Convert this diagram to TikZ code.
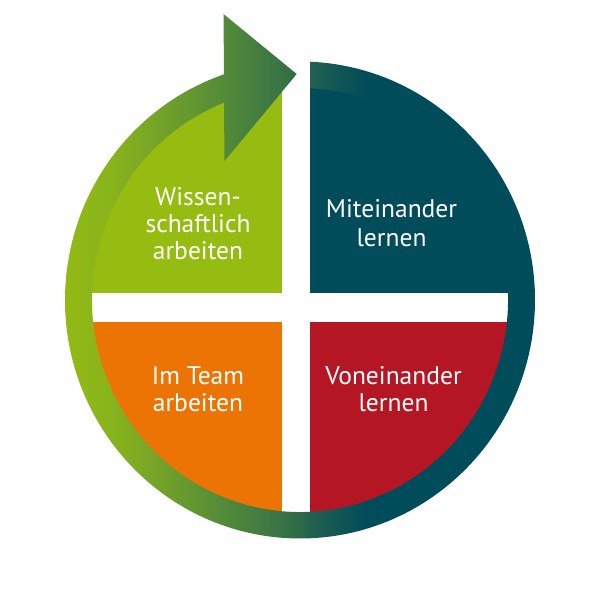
\documentclass[tikz,border=0pt]{standalone}
\usepackage{fontspec}
\setmainfont{PT Sans}
\definecolor{rg1}{RGB}{147,186,20}
\definecolor{rg2}{RGB}{136,180,28}
\definecolor{rg3}{RGB}{120,166,38}
\definecolor{rg4}{RGB}{90,144,53}
\definecolor{rg5}{RGB}{58,117,69}
\definecolor{rg6}{RGB}{47,108,70}
\definecolor{rg7}{RGB}{34,95,80}
\definecolor{rg8}{RGB}{0,76,90}
\definecolor{qgreen}{RGB}{150,188,17}
\definecolor{qteal}{RGB}{0,76,90}
\definecolor{qorange}{RGB}{236,116,4}
\definecolor{qred}{RGB}{181,22,35}
\pgfdeclarehorizontalshading{ringsh}{100bp}{color(0bp)=(rg1); color(30.4bp)=(rg1); color(34.2bp)=(rg2); color(37.5bp)=(rg3); color(42.5bp)=(rg4); color(48.1bp)=(rg5); color(49.75bp)=(rg6); color(51bp)=(rg7); color(55.5bp)=(rg8); color(100bp)=(rg8)}
\tikzset{
  ringfill/.style={path picture={\shade[shading=ringsh] (-300,-300) rectangle (300,300);}},
  lbl/.style={text=white, font=\fontsize{25.5}{28}\selectfont, anchor=base, inner sep=0pt}
}
\begin{document}
\begin{tikzpicture}[x=1pt,y=1pt]
\useasboundingbox (-300,-300) rectangle (300,300);
% quadrants
\begin{scope}
  \clip (0,0) ellipse [x radius=209pt, y radius=213pt];
  \fill[qgreen] (-300,7) rectangle (-18,300);
  \fill[qteal] (10,7) rectangle (300,300);
  \fill[qorange] (-300,-22) rectangle (-18,-300);
  \fill[qred] (10,-22) rectangle (300,-300);
\end{scope}
% ring with arrow head
\path[ringfill] (87.56:235pt and 238.5pt)
  arc[start angle=87.56, end angle=-251.13, x radius=235pt, y radius=238.5pt]
  -- (-76.5,286) -- (-3.3,226) -- (-75.5,139)
  -- (-248.57:208pt and 212pt)
  arc[start angle=-248.57, end angle=87.24, x radius=208pt, y radius=212pt]
  -- cycle;
% labels
\node[lbl] (w1) at (-102,95) {Wissen-};
\node[lbl] (w2) at (-102,68) {schaftlich};
\node[lbl] (w3) at (-102,41) {arbeiten};
\node[lbl] (m1) at (91.5,82) {Miteinander};
\node[lbl] (m2) at (91.5,54) {lernen};
\node[lbl] (t1) at (-102,-84) {Im Team};
\node[lbl] (t2) at (-102,-111) {arbeiten};
\node[lbl] (v1) at (93.5,-84) {Voneinander};
\node[lbl] (v2) at (93.5,-111) {lernen};
\end{tikzpicture}
\end{document}
